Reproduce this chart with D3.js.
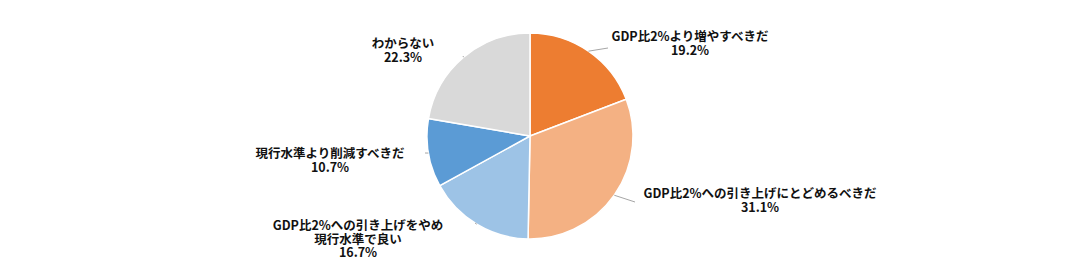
<!DOCTYPE html>
<html>
<head>
<meta charset="utf-8">
<script src="https://cdn.jsdelivr.net/npm/d3@7"></script>
<style>
  body { margin: 0; background: #fff; }
  svg text { font-family: "Noto Sans CJK JP", "Noto Sans", sans-serif; font-weight: bold; font-size: 12.5px; fill: #111; }
</style>
</head>
<body>
<div class="content"></div>
<script>
const categories = [
  ['GDP比2%より増やすべきだ'],
  ['GDP比2%への引き上げにとどめるべきだ'],
  ['GDP比2%への引き上げをやめ', '現行水準で良い'],
  ['現行水準より削減すべきだ'],
  ['わからない']
];
const values = [19.2, 31.1, 16.7, 10.7, 22.3];
const colors = ['#ED7D31', '#F4B183', '#9DC3E6', '#5B9BD5', '#D9D9D9'];

// label anchor (centre of first line) and leader end, per slice
const labelLayout = [
  { x: 690, y: 37, lx: 608, ly: 48 },
  { x: 760, y: 194, lx: 635, ly: 202 },
  { x: 358, y: 226, lx: 475, ly: 223 },
  { x: 330, y: 154, lx: 425, ly: 153 },
  { x: 403, y: 44, lx: 463, ly: 56 }
];

const width = 1082, height = 273;
const cx = 530, cy = 136, radius = 103;

const svg = d3.select('div.content')
              .append('svg')
              .attr('width', width)
              .attr('height', height);

const data = values.map((v, i) => ({ value: v, label: categories[i], color: colors[i], pos: labelLayout[i] }));

const pie = d3.pie().sort(null).value(d => d.value);
const arc = d3.arc().innerRadius(0).outerRadius(radius);
const arcs = pie(data);

const g = svg.append('g').attr('transform', `translate(${cx},${cy})`);

g.selectAll('path.slice')
 .data(arcs)
 .enter()
 .append('path')
 .attr('class', 'slice')
 .attr('d', arc)
 .attr('fill', d => d.data.color)
 .attr('stroke', '#fff')
 .attr('stroke-width', 1.5);

// leader lines from the arc midpoint to the label
svg.selectAll('line.leader')
   .data(arcs)
   .enter()
   .append('line')
   .attr('class', 'leader')
   .attr('x1', d => cx + radius * Math.sin((d.startAngle + d.endAngle) / 2))
   .attr('y1', d => cy - radius * Math.cos((d.startAngle + d.endAngle) / 2))
   .attr('x2', d => d.data.pos.lx)
   .attr('y2', d => d.data.pos.ly)
   .attr('stroke', '#a6a6a6')
   .attr('stroke-width', 1);

const labels = svg.selectAll('text.label')
   .data(arcs)
   .enter()
   .append('text')
   .attr('class', 'label')
   .attr('text-anchor', 'middle')
   .attr('x', d => d.data.pos.x)
   .attr('y', d => d.data.pos.y);

labels.each(function(d) {
  const lines = d.data.label.concat([d.data.value.toFixed(1) + '%']);
  const t = d3.select(this);
  lines.forEach((line, i) => {
    t.append('tspan')
     .attr('x', d.data.pos.x)
     .attr('dy', i === 0 ? '0.35em' : 13.5)
     .text(line);
  });
});
</script>
</body>
</html>
